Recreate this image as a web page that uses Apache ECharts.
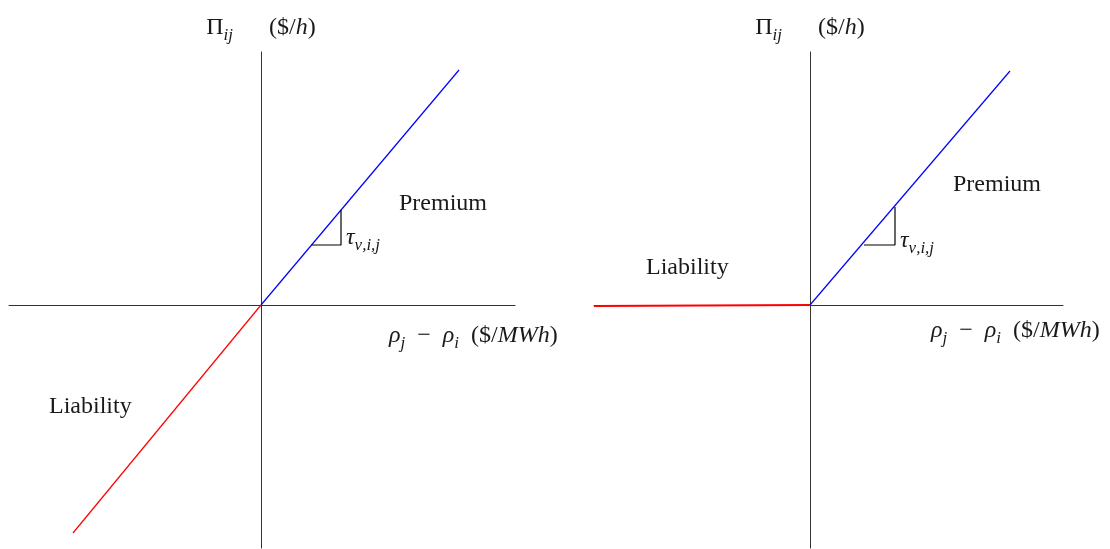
<!DOCTYPE html>
<html>
<head>
<meta charset="utf-8">
<style>
  html, body { margin: 0; padding: 0; background: #fff; }
  #chart { width: 1110px; height: 549px; }
</style>
<script src="https://cdn.jsdelivr.net/npm/echarts@6/dist/echarts.min.js"></script>
</head>
<body>
<div id="chart"></div>
<script>
// Payoff of a transmission right: flat liability vs. symmetric exposure
// Left panel: obligation (linear both ways); right panel: option (liability clipped)
const leftPremium   = [[0, 0], [19.8, 23.5]];
const leftLiability = [[0, 0], [-18.8, -22.8]];
const leftSlope     = [[5.05, 6], [8, 6], [8, 9.5]];

const rightPremium   = [[0, 0], [20, 23.4]];
const rightLiability = [[-21.6, -0.1], [0, 0]];
const rightSlope     = [[5.4, 6], [8.5, 6], [8.5, 9.8]];

const leftRange  = { xMin: -25.2, xMax: 25.4, yMin: -24.3, yMax: 25.3 };
const rightRange = { xMin: -21.6, xMax: 25.3, yMin: -24.3, yMax: 25.3 };

const FONT = '"Liberation Serif", "DejaVu Serif", serif';
const INK = '#1a1a1a';

const rich = {
  rm:  { fontFamily: FONT, fontSize: 24, color: INK, lineHeight: 28, verticalAlign: 'top' },
  it:  { fontFamily: FONT, fontSize: 24, color: INK, fontStyle: 'italic', lineHeight: 28, verticalAlign: 'top' },
  sub: { fontFamily: FONT, fontSize: 17, color: INK, fontStyle: 'italic', lineHeight: 23, verticalAlign: 'bottom' }
};

const yName = '{rm|Π}{sub|ij}{rm|      ($/}{it|h}{rm|)}';
const xName = '{it|ρ}{sub|j}{rm|  −  }{it|ρ}{sub|i}{rm|  ($/}{it|MWh}{rm|)}';
const tauName = '{it|τ}{sub|ν,i,j}';

function axisPair(idx, r) {
  const line = { show: true, onZero: true, lineStyle: { color: '#333', width: 1 } };
  return {
    x: {
      type: 'value', gridIndex: idx, min: r.xMin, max: r.xMax,
      axisLine: line, axisTick: { show: false }, axisLabel: { show: false },
      splitLine: { show: false }
    },
    y: {
      type: 'value', gridIndex: idx, min: r.yMin, max: r.yMax,
      axisLine: line, axisTick: { show: false }, axisLabel: { show: false },
      splitLine: { show: false },
      name: yName, nameLocation: 'end', nameGap: 8,
      nameTextStyle: { rich: rich, align: 'center' }
    }
  };
}

const a0 = axisPair(0, leftRange);
const a1 = axisPair(1, rightRange);

function lineSeries(idx, data, color, width) {
  return {
    type: 'line', xAxisIndex: idx, yAxisIndex: idx, data: data,
    showSymbol: false, symbol: 'none', silent: true,
    lineStyle: { color: color, width: width }
  };
}

function label(x, y, text) {
  return {
    type: 'text', left: x, top: y,
    style: { text: text, rich: rich, fill: INK }
  };
}

const chart = echarts.init(document.getElementById('chart'), null, { renderer: 'canvas' });
chart.setOption({
  animation: false,
  backgroundColor: '#ffffff',
  grid: [
    { left: 9, top: 52, width: 506, height: 496 },
    { left: 594, top: 52, width: 469, height: 496 }
  ],
  xAxis: [a0.x, a1.x],
  yAxis: [a0.y, a1.y],
  series: [
    lineSeries(0, leftLiability, '#ff0000', 1.2),
    lineSeries(0, leftPremium, '#0000ff', 1.2),
    lineSeries(0, leftSlope, '#000000', 1.2),
    lineSeries(1, rightLiability, '#ff0000', 2.2),
    lineSeries(1, rightPremium, '#0000ff', 1.2),
    lineSeries(1, rightSlope, '#000000', 1.2)
  ],
  graphic: [
    label(399, 192, '{rm|Premium}'),
    label(49, 395, '{rm|Liability}'),
    label(346, 226, tauName),
    label(389, 324, xName),
    label(953, 173, '{rm|Premium}'),
    label(646, 256, '{rm|Liability}'),
    label(900, 229, tauName),
    label(931, 319, xName)
  ]
});
</script>
</body>
</html>
